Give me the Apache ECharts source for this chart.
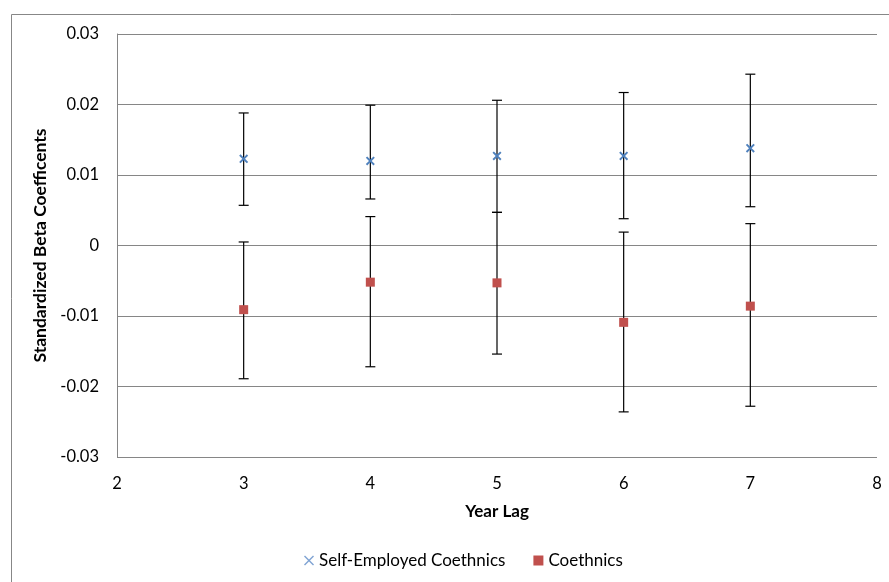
<!DOCTYPE html>
<html>
<head>
<meta charset="utf-8">
<script src="https://cdn.jsdelivr.net/npm/echarts@6/dist/echarts.min.js"></script>
<style>
html,body{margin:0;padding:0;background:#fff;}
#chart{width:889px;height:582px;}
</style>
</head>
<body>
<div id="chart"></div>
<script>
const years = [3, 4, 5, 6, 7];
const selfEmpMean = [0.0123, 0.0120, 0.0127, 0.0127, 0.0138];
const selfEmpLow  = [0.0057, 0.0066, 0.0047, 0.0038, 0.0055];
const selfEmpHigh = [0.0188, 0.0199, 0.0206, 0.0217, 0.0243];
const coMean = [-0.0091, -0.0052, -0.0053, -0.0109, -0.0086];
const coLow  = [-0.0189, -0.0172, -0.0154, -0.0236, -0.0228];
const coHigh = [0.0005, 0.0041, 0.0047, 0.0019, 0.0031];
const yTicks = [-0.03, -0.02, -0.01, 0, 0.01, 0.02, 0.03];

const FONT = 'Lato, "Open Sans", sans-serif';
const crossPath = 'path://M1.5,0L5,3.5L8.5,0L10,1.5L6.5,5L10,8.5L8.5,10L5,6.5L1.5,10L0,8.5L3.5,5L0,1.5Z';
const thinCross = 'path://M1,0L5,4L9,0L10,1L6,5L10,9L9,10L5,6L1,10L0,9L4,5L0,1Z';

function errData(low, high) {
  return years.map((x, i) => [x, low[i], high[i]]);
}
function renderErr(params, api) {
  const x = api.value(0);
  const p1 = api.coord([x, api.value(1)]);
  const p2 = api.coord([x, api.value(2)]);
  const w = 5;
  const style = { stroke: '#000', lineWidth: 1.2 };
  return {
    type: 'group',
    children: [
      { type: 'line', shape: { x1: p1[0], y1: p1[1], x2: p2[0], y2: p2[1] }, style: style },
      { type: 'line', shape: { x1: p1[0] - w, y1: p1[1], x2: p1[0] + w, y2: p1[1] }, style: style },
      { type: 'line', shape: { x1: p2[0] - w, y1: p2[1], x2: p2[0] + w, y2: p2[1] }, style: style }
    ]
  };
}

const chart = echarts.init(document.getElementById('chart'));
chart.setOption({
  animation: false,
  backgroundColor: '#fff',
  textStyle: { fontFamily: FONT },
  graphic: [{
    type: 'rect', left: 9, top: 12,
    shape: { width: 900, height: 600 },
    style: { fill: 'none', stroke: '#878787', lineWidth: 1 },
    silent: true
  }],
  grid: { left: 117, right: 12, top: 34, bottom: 125, containLabel: false },
  legend: {
    bottom: 8,
    left: 299,
    itemGap: 28,
    itemWidth: 10,
    itemHeight: 10,
    textStyle: { fontFamily: FONT, fontSize: 17, color: '#000' },
    data: [
      { name: 'Self-Employed Coethnics', icon: thinCross, itemStyle: { color: '#7fa3d3' } },
      { name: 'Coethnics', icon: 'rect', itemStyle: { color: '#c0504d' } }
    ]
  },
  xAxis: {
    type: 'value',
    min: 2, max: 8, interval: 1,
    name: 'Year Lag',
    nameLocation: 'middle',
    nameGap: 46,
    nameTextStyle: { fontFamily: FONT, fontSize: 17, fontWeight: 'bold', color: '#000' },
    axisLine: { show: false },
    axisTick: { show: false },
    splitLine: { show: false },
    axisLabel: { fontFamily: FONT, fontSize: 16.5, color: '#000', margin: 18 }
  },
  yAxis: {
    type: 'value',
    min: -0.03, max: 0.03, interval: 0.01,
    name: 'Standardized Beta Coefficents',
    nameLocation: 'middle',
    nameGap: 65,
    nameTextStyle: { fontFamily: FONT, fontSize: 17.5, fontWeight: 'bold', color: '#000' },
    axisLine: { show: true, lineStyle: { color: '#868686', width: 1 } },
    axisTick: { show: false },
    splitLine: { show: true, lineStyle: { color: '#868686', width: 1 } },
    axisLabel: {
      fontFamily: FONT, fontSize: 16.5, color: '#000', margin: 18,
      formatter: function (v) {
        const r = Math.round(v * 100) / 100;
        const t = yTicks.find(tk => Math.abs(tk - r) < 1e-9);
        return t === 0 ? '0' : String(t);
      }
    }
  },
  series: [
    {
      name: 'SE err', type: 'custom', renderItem: renderErr,
      data: errData(selfEmpLow, selfEmpHigh), z: 1, silent: true,
      encode: { x: 0, y: [1, 2] }
    },
    {
      name: 'CO err', type: 'custom', renderItem: renderErr,
      data: errData(coLow, coHigh), z: 1, silent: true,
      encode: { x: 0, y: [1, 2] }
    },
    {
      name: 'Self-Employed Coethnics', type: 'scatter',
      symbol: crossPath, symbolSize: 9, z: 3,
      itemStyle: { color: '#4f81bd', opacity: 1 },
      data: years.map((x, i) => [x, selfEmpMean[i]])
    },
    {
      name: 'Coethnics', type: 'scatter',
      symbol: 'rect', symbolSize: 9, z: 3,
      itemStyle: { color: '#c0504d', opacity: 1 },
      data: years.map((x, i) => [x, coMean[i]])
    }
  ]
});
</script>
</body>
</html>
